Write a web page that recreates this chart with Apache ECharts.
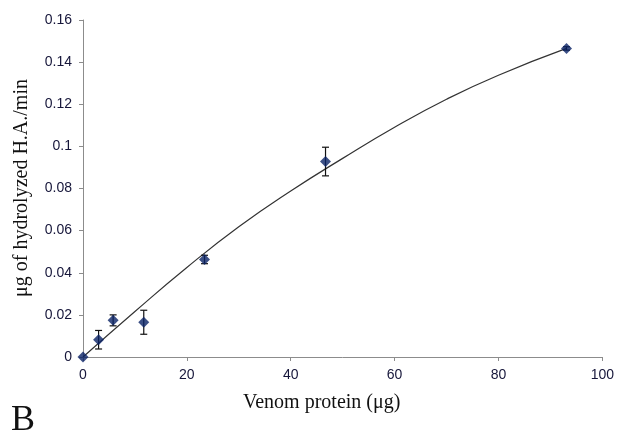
<!DOCTYPE html>
<html><head><meta charset="utf-8">
<script src="https://cdn.jsdelivr.net/npm/echarts@6/dist/echarts.min.js"></script>
<style>html,body{margin:0;padding:0;background:#fff}#c{width:617px;height:435px}</style>
</head><body><div id="c"></div>
<script>
// Measured points
const protein = [0, 3.0, 5.8, 11.7, 23.4, 46.7, 93.1];
const activity = [0, 0.0082, 0.0174, 0.0165, 0.0463, 0.0928, 0.1465];
const errors = [0, 0.0044, 0.0026, 0.0057, 0.002, 0.0068, 0.0008];
// Trend line
const trendX = [0, 10, 20, 30, 40, 50, 60, 70, 80, 93.1];
const trendY = [0, 0.0216, 0.0425, 0.0618, 0.0788, 0.0943, 0.1091, 0.1224, 0.1338, 0.1465];
const xTicks = [0, 20, 40, 60, 80, 100];
const yTicks = [0, 0.02, 0.04, 0.06, 0.08, 0.1, 0.12, 0.14, 0.16];

const chart = echarts.init(document.getElementById('c'));
const pts = protein.map((x, i) => [x, activity[i]]);
const errData = protein.map((x, i) => [x, activity[i] - errors[i], activity[i] + errors[i]]);
const trend = trendX.map((x, i) => [x, trendY[i]]);
const labelFont = {fontFamily: 'Liberation Sans, Arial, sans-serif', fontSize: 14, color: '#16163a'};

chart.setOption({
  animation: false,
  grid: {left: 83, right: 13, top: 20, bottom: 78, containLabel: false},
  xAxis: {
    type: 'value', min: xTicks[0], max: xTicks[xTicks.length - 1], interval: 20,
    axisLine: {show: true, lineStyle: {color: '#8c8c8c', width: 1}},
    axisTick: {show: true, length: 4, lineStyle: {color: '#8c8c8c'}},
    axisLabel: Object.assign({margin: 11}, labelFont),
    splitLine: {show: false}
  },
  yAxis: {
    type: 'value', min: yTicks[0], max: yTicks[yTicks.length - 1], interval: 0.02,
    axisLine: {show: true, lineStyle: {color: '#8c8c8c', width: 1}},
    axisTick: {show: true, length: 4, lineStyle: {color: '#8c8c8c'}},
    axisLabel: Object.assign({margin: 11, formatter: v => String(+v.toFixed(2))}, labelFont),
    splitLine: {show: false}
  },
  graphic: [
    {type: 'text', left: 243, top: 393, style: {text: 'Venom protein (μg)', font: '20px "Liberation Serif", "Times New Roman", serif', fill: '#111'}},
    {type: 'text', x: 22, y: 188, rotation: Math.PI / 2, style: {text: 'μg of hydrolyzed H.A./min', font: '20px "Liberation Serif", "Times New Roman", serif', fill: '#111', align: 'center', verticalAlign: 'middle'}},
    {type: 'text', left: 11, top: 403, style: {text: 'B', font: '36px "Liberation Serif", "Times New Roman", serif', fill: '#111'}}
  ],
  series: [
    {
      type: 'line', data: trend, smooth: 0.5, symbol: 'none',
      lineStyle: {color: '#333', width: 1.2}, z: 2
    },
    {
      type: 'custom', data: errData, z: 3,
      renderItem: function (params, api) {
        const x = api.value(0);
        const top = api.coord([x, api.value(2)]);
        const bot = api.coord([x, api.value(1)]);
        if (Math.abs(bot[1] - top[1]) < 0.5) return null;
        const w = 3.5;
        const st = {stroke: '#111', lineWidth: 1.2};
        return {type: 'group', children: [
          {type: 'line', shape: {x1: top[0], y1: top[1], x2: bot[0], y2: bot[1]}, style: st},
          {type: 'line', shape: {x1: top[0] - w, y1: top[1], x2: top[0] + w, y2: top[1]}, style: st},
          {type: 'line', shape: {x1: bot[0] - w, y1: bot[1], x2: bot[0] + w, y2: bot[1]}, style: st}
        ]};
      }
    },
    {
      type: 'scatter', data: pts, symbol: 'diamond', symbolSize: 11,
      itemStyle: {color: '#0a2366'}, z: 4
    }
  ]
});
</script></body></html>
